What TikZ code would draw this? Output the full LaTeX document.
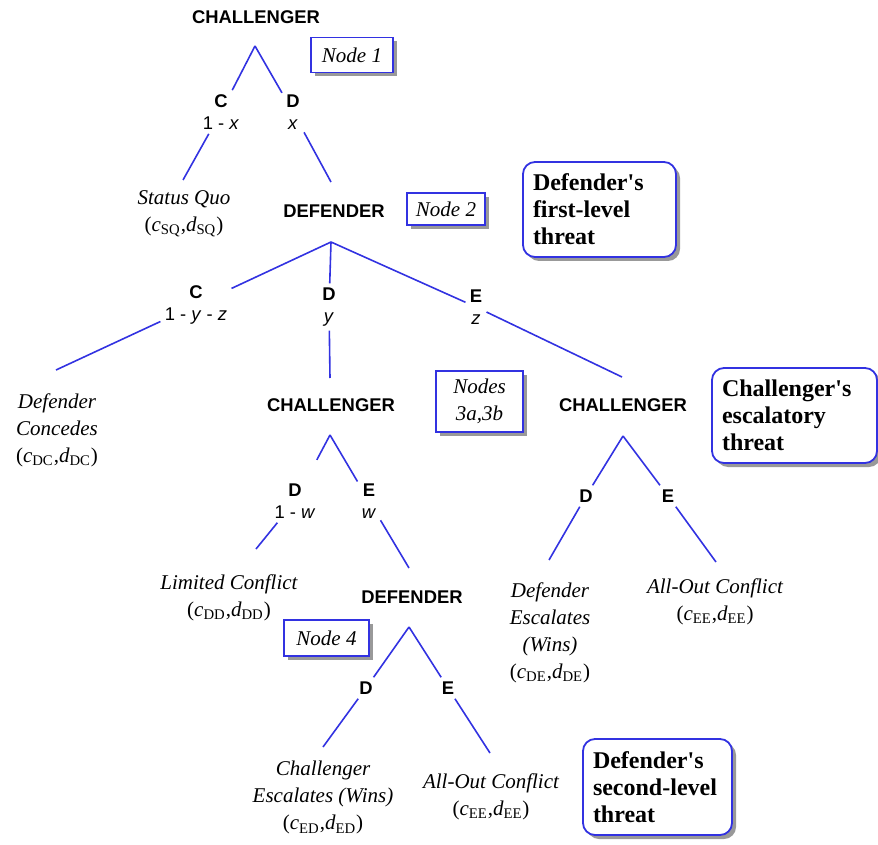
\documentclass[tikz,border=0pt]{standalone}
\usepackage{fontspec}
\setmainfont{Liberation Serif}
\setsansfont{Liberation Sans}
\usetikzlibrary{positioning,shadows}
\definecolor{treeblue}{RGB}{50,50,225}
\newcommand{\payoff}[1]{\textup{(}\textit{c}\textsubscript{\textup{#1}}\textup{,}\textit{d}\textsubscript{\textup{#1}}\textup{)}}
\tikzset{
player/.style={font=\sffamily\bfseries\fontsize{9.2}{11}\selectfont, inner sep=2pt},
movelabel/.style={align=center, font=\sffamily\fontsize{9.2}{11}\selectfont, inner sep=2pt},
outcome/.style={align=center, anchor=north, inner sep=0pt, font=\itshape\fontsize{10.5}{13.5}\selectfont},
branch/.style={draw=treeblue, line width=0.8pt},
boxshadow/.style={drop shadow={shadow xshift=2pt, shadow yshift=-2pt, fill=black, opacity=0.4}},
nodebox/.style={rectangle, draw=treeblue, line width=0.9pt, fill=white, align=center,
                minimum width=41pt, minimum height=17.5pt, inner sep=2pt,
                font=\itshape\fontsize{10.5}{13.5}\selectfont, boxshadow},
threat/.style={rectangle, rounded corners=6pt, draw=treeblue, line width=0.9pt, fill=white,
               align=left, inner xsep=5pt, minimum height=47.5pt,
               font=\bfseries\fontsize{12}{13.5}\selectfont, boxshadow},
}

\begin{document}
\begin{tikzpicture}[x=0.5pt, y=-0.5pt]

    \useasboundingbox (0,0) rectangle (878,845);

    \node[player] (CHAL_0) at(256, 17)  {CHALLENGER};
    \node[player] (DEF_0) at(334, 211)  {DEFENDER};
    \node[player] (CHAL_1) at(331, 405)  {CHALLENGER};
    \node[player] (CHAL_2) at(623, 405)  {CHALLENGER};
    \node[player] (DEF_1) at(412, 597)  {DEFENDER};

    \coordinate (A_0) at(255, 46);
    \coordinate (A_1) at(331, 242);
    \coordinate (A_2) at(330, 435);
    \coordinate (A_3) at(623, 436);
    \coordinate (A_4) at(409, 627);

    \node[movelabel] (MV_C_0) at(221, 112)  {\textbf{C}\\1 - \textit{x}};
    \node[movelabel] (MV_D_0) at(293, 112)  {\textbf{D}\\\textit{x}};
    \node[movelabel] (MV_C_1) at(196, 305)  {\textbf{C}\\1 - \textit{y} - \textit{z}};
    \node[movelabel] (MV_D_1) at(329, 307)  {\textbf{D}\\\textit{y}};
    \node[movelabel] (MV_E_1) at(476, 307)  {\textbf{E}\\\textit{z}};
    \node[movelabel] (MV_D_2) at(295, 501)  {\textbf{D}\\1 - \textit{w}};
    \node[movelabel] (MV_E_2) at(369, 501)  {\textbf{E}\\\textit{w}};
    \node[movelabel] (MV_D_3) at(586, 496)  {\textbf{D}};
    \node[movelabel] (MV_E_3) at(668, 496)  {\textbf{E}};
    \node[movelabel] (MV_D_4) at(366, 688)  {\textbf{D}};
    \node[movelabel] (MV_E_4) at(448, 688)  {\textbf{E}};

    \node[outcome] (SQ) at(184, 190)  {Status Quo\\\payoff{SQ}};
    \node[outcome] (DC) at(57, 393)  {Defender\\Concedes\\\payoff{DC}};
    \node[outcome] (LC) at(229, 574)  {Limited Conflict\\\payoff{DD}};
    \node[outcome] (DEW) at(550, 582)  {Defender\\Escalates\\(Wins)\\\payoff{DE}};
    \node[outcome] (AOC_0) at(715, 578)  {All-Out Conflict\\\payoff{EE}};
    \node[outcome] (CEW) at(323, 761)  {Challenger\\Escalates (Wins)\\\payoff{ED}};
    \node[outcome] (AOC_1) at(491, 773)  {All-Out Conflict\\\payoff{EE}};

    \coordinate (E_SQ) at(183, 180);
    \coordinate (E_DEF_0) at(331, 182);
    \coordinate (E_DC) at(56, 370);
    \coordinate (E_CHAL_1) at(330, 378);
    \coordinate (E_CHAL_2) at(622, 377);
    \coordinate (E_LC) at(256, 549);
    \coordinate (E_DEF_1) at(409, 568);
    \coordinate (E_DEW) at(549, 560);
    \coordinate (E_AOC_0) at(716, 562);
    \coordinate (E_CEW) at(323, 747);
    \coordinate (E_AOC_1) at(490, 753);

    \node[nodebox] (NB_1) at(352, 55)  {Node 1};
    \node[nodebox, minimum width=39pt, minimum height=16pt] (NB_2) at(446, 209)  {Node 2};
    \node[nodebox, minimum width=43.5pt, minimum height=30.5pt] (NB_3) at(479.5, 401.5)  {Nodes\\3a,3b};
    \node[nodebox, minimum width=42.5pt, minimum height=18pt] (NB_4) at(326.5, 638)  {Node 4};

    \node[threat, text width=66.5pt] (TH_1) at(599.5, 209.5)  {Defender\textquotesingle s\\first-level\\threat};
    \node[threat, text width=72.5pt] (TH_2) at(794.5, 415.5)  {Challenger\textquotesingle s\\escalatory\\threat};
    \node[threat, text width=64.5pt, minimum height=48pt] (TH_3) at(657.5, 787)  {Defender\textquotesingle s\\second-level\\threat};

    \draw[branch] (A_0) -- (MV_C_0) -- (E_SQ);
    \draw[branch] (A_0) -- (MV_D_0) -- (E_DEF_0);

    \draw[branch] (A_1) -- (MV_C_1) -- (E_DC);
    \draw[branch] (A_1) -- (MV_D_1) -- (E_CHAL_1);
    \draw[branch] (A_1) -- (MV_E_1) -- (E_CHAL_2);

    \draw[branch, shorten >=11pt] (A_2) -- (MV_D_2);
    \draw[branch] (MV_D_2) -- (E_LC);
    \draw[branch] (A_2) -- (MV_E_2) -- (E_DEF_1);

    \draw[branch] (A_3) -- (MV_D_3) -- (E_DEW);
    \draw[branch] (A_3) -- (MV_E_3) -- (E_AOC_0);

    \draw[branch] (A_4) -- (MV_D_4) -- (E_CEW);
    \draw[branch] (A_4) -- (MV_E_4) -- (E_AOC_1);
\end{tikzpicture}
\end{document}
